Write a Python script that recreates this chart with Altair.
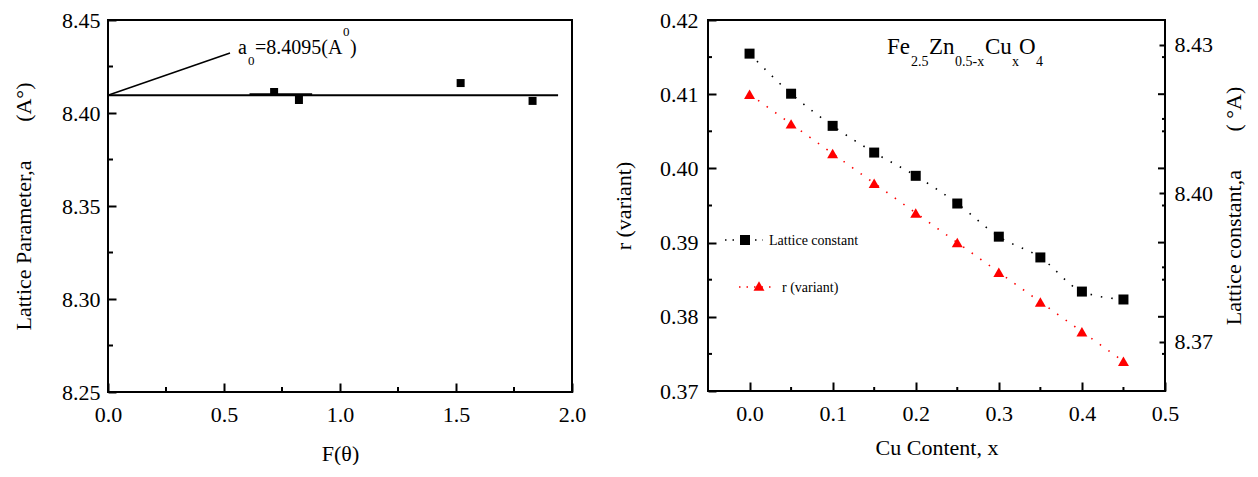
import altair as alt
import pandas as pd

FONT = "Liberation Serif"

# ---------------- Left panel data ----------------
f_theta = [0.716, 0.823, 1.52, 1.83]
a_vals = [8.4113, 8.4070, 8.4161, 8.4065]
fit_x = [0.0, 1.94]
fit_y = [8.4095, 8.4095]
seg_x = [0.61, 0.88]
seg_y = [8.4099, 8.4099]
lead_x = [0.0, 0.526]
lead_y = [8.4095, 8.4323]

# ---------------- Right panel data ----------------
cu_x = [0.0, 0.05, 0.10, 0.15, 0.20, 0.25, 0.30, 0.35, 0.40, 0.45]
r_vals = [0.410, 0.406, 0.402, 0.398, 0.394, 0.390, 0.386, 0.382, 0.378, 0.374]
lat_vals = [8.4282, 8.4201, 8.4136, 8.4082, 8.4035, 8.3979, 8.3912, 8.3870, 8.3801, 8.3785]

# ---------------- Tick values ----------------
left_x_ticks = [0.0, 0.5, 1.0, 1.5, 2.0]
left_x_minor = [0.25, 0.75, 1.25, 1.75]
left_y_ticks = [8.25, 8.30, 8.35, 8.40, 8.45]
left_y_minor = [8.275, 8.325, 8.375, 8.425]
right_x_ticks = [0.0, 0.1, 0.2, 0.3, 0.4, 0.5]
right_x_minor = [0.05, 0.15, 0.25, 0.35, 0.45]
r_ticks = [0.37, 0.38, 0.39, 0.40, 0.41, 0.42]
r_major = [0.38, 0.39, 0.40, 0.41]
r_minor = [0.375, 0.385, 0.395, 0.405, 0.415]
lat_ticks = [8.37, 8.40, 8.43]
lat_minor = [8.385, 8.415]

LW, LH = 464, 372
RW, RH = 457, 371

one = pd.DataFrame({"k": [0]})


def label_axis(orient, values, fmt, title, tick, pad, **kw):
    # ticks drawn inward (negative length via expression); label padding compensates
    return alt.Axis(orient=orient, values=values, format=fmt, title=title,
                    ticks=True, tickSize={"expr": str(-tick)}, tickWidth=2, tickColor="black",
                    domain=False, labelFlush=False, zindex=1,
                    labelOverlap=False, grid=False, labelFont=FONT, labelFontSize=22,
                    labelColor="black", titleFont=FONT, titleFontSize=22,
                    labelPadding=pad + tick,
                    titleFontWeight="normal", titleColor="black", **kw)


def txt(s, x, y, size, **kw):
    return alt.Chart(one).mark_text(text=s, font=FONT, fontSize=size, align="left",
                                    baseline="alphabetic", color="black", **kw).encode(
        x=alt.value(x), y=alt.value(y))


# ---------------- Left panel ----------------
xsL = alt.Scale(domain=[0, 2], nice=False, zero=False)
ysL = alt.Scale(domain=[8.25, 8.45], nice=False, zero=False)
axLx = label_axis("bottom", left_x_ticks, ".1f", "F(θ)", 9, 12, titlePadding=18)
axLy = label_axis("left", left_y_ticks, ".2f", "Lattice Parameter,a" + "\u00a0" * 7 + "(A°)",
                  8, 8, titlePadding=26)


def LX(field):
    return alt.X(f"{field}:Q", scale=xsL, axis=axLx)


def LY(field):
    return alt.Y(f"{field}:Q", scale=ysL, axis=axLy)


pts = pd.DataFrame({"F": f_theta, "a": a_vals})
fit = pd.DataFrame({"F": fit_x, "a": fit_y})
seg = pd.DataFrame({"F": seg_x, "a": seg_y})
lead = pd.DataFrame({"F": lead_x, "a": lead_y})

l_pts = alt.Chart(pts).mark_square(size=64, color="black", opacity=1).encode(x=LX("F"), y=LY("a"))
l_fit = alt.Chart(fit).mark_line(color="black", strokeWidth=2).encode(x=LX("F"), y=LY("a"))
l_lead = alt.Chart(lead).mark_line(color="black", strokeWidth=1.5).encode(x=LX("F"), y=LY("a"))
l_seg = alt.Chart(seg).mark_line(color="black", strokeWidth=2.5).encode(x=LX("F"), y=LY("a"))


def l_xticks(values, length):
    return alt.Chart(pd.DataFrame({"F": values})).mark_rule(color="black", strokeWidth=2).encode(
        x=LX("F"), y=alt.value(LH), y2=alt.value(LH - length))


def l_yticks(values, length):
    return alt.Chart(pd.DataFrame({"a": values})).mark_rule(color="black", strokeWidth=2).encode(
        y=LY("a"), x=alt.value(0), x2=alt.value(length))


left = alt.layer(
    l_pts, l_fit, l_lead, l_seg,
    l_xticks(left_x_minor, 5),
    l_yticks(left_y_minor, 5),
    txt("a", 130, 34, 20),
    txt("0", 140, 45, 13),
    txt("=8.4095(A", 147, 34, 20),
    txt("0", 235, 16, 13),
    txt(")", 242, 34, 20),
).properties(width=LW, height=LH)

# ---------------- Right panel ----------------
xsR = alt.Scale(domain=[-0.05, 0.5], nice=False, zero=False)
rsc = alt.Scale(domain=[0.37, 0.42], nice=False, zero=False)
lsc = alt.Scale(domain=[8.36, 8.435], nice=False, zero=False)
axRx = label_axis("bottom", right_x_ticks, ".1f", "Cu Content, x", 9, 12, titlePadding=13)
axR = label_axis("left", r_ticks, ".2f", "r (variant)", 8, 10, titlePadding=24)
axLat = label_axis("right", lat_ticks, ".2f", "Lattice constant,a" + "\u00a0" * 7 + "(\u00a0°A)",
                   6, 9, titlePadding=11, titleAngle=270, titleBaseline="top")


def RX(field):
    return alt.X(f"{field}:Q", scale=xsR, axis=axRx)


def RY(field):
    return alt.Y(f"{field}:Q", scale=rsc, axis=axR)


def LatY(field):
    return alt.Y(f"{field}:Q", scale=lsc, axis=axLat)


rdf = pd.DataFrame({"x": cu_x, "r": r_vals, "lat": lat_vals})
base = alt.Chart(rdf)
dash = [1.5, 9]


def r_xticks(values, length):
    return alt.Chart(pd.DataFrame({"x": values})).mark_rule(color="black", strokeWidth=2).encode(
        x=RX("x"), y=alt.value(RH), y2=alt.value(RH - length))


def r_yticks(values, x0, x1):
    return alt.Chart(pd.DataFrame({"r": values})).mark_rule(color="black", strokeWidth=2).encode(
        y=RY("r"), x=alt.value(x0), x2=alt.value(x1))


def lat_yticks(values, x0, x1):
    return alt.Chart(pd.DataFrame({"lat": values})).mark_rule(color="black", strokeWidth=2).encode(
        y=LatY("lat"), x=alt.value(x0), x2=alt.value(x1))


r_group = alt.layer(
    base.mark_line(color="red", strokeDash=dash, strokeWidth=1.6).encode(x=RX("x"), y=RY("r")),
    base.mark_point(shape="triangle-up", filled=True, color="red", size=120, opacity=1).encode(
        x=RX("x"), y=RY("r")),
    r_xticks(right_x_minor, 4),
    r_yticks(r_minor, 0, 4),
    r_yticks(r_major, RW, RW - 7), r_yticks(r_minor, RW, RW - 3),
)
lat_group = alt.layer(
    base.mark_line(color="black", strokeDash=dash, strokeWidth=1.6, interpolate="monotone").encode(
        x=RX("x"), y=LatY("lat")),
    base.mark_square(size=100, color="black", opacity=1).encode(x=RX("x"), y=LatY("lat")),
    lat_yticks(lat_minor, RW, RW - 3),
)

leg1_line = alt.Chart(one).mark_rule(color="black", strokeDash=[1.5, 6], strokeWidth=1.6).encode(
    x=alt.value(17), x2=alt.value(55), y=alt.value(220))
leg1_sym = alt.Chart(one).mark_square(size=100, color="black", opacity=1).encode(
    x=alt.value(37), y=alt.value(220))
leg2_line = alt.Chart(one).mark_rule(color="red", strokeDash=[1.5, 6], strokeWidth=1.6).encode(
    x=alt.value(31), x2=alt.value(68), y=alt.value(267))
leg2_sym = alt.Chart(one).mark_point(shape="triangle-up", filled=True, color="red", size=120, opacity=1).encode(
    x=alt.value(51), y=alt.value(266))

right = alt.layer(
    r_group, lat_group,
    leg1_line, leg1_sym, leg2_line, leg2_sym,
    txt("Lattice constant", 61, 225, 14),
    txt("r (variant)", 74, 272, 14),
    txt("Fe", 179, 34, 23),
    txt("2.5", 203, 46, 14),
    txt("Zn", 221, 34, 23),
    txt("0.5-x", 247, 46, 14),
    txt("Cu", 277, 34, 23),
    txt("x", 304, 46, 14),
    txt("O", 311, 34, 23),
    txt("4", 328, 46, 14),
).resolve_scale(y="independent").properties(width=RW, height=RH)

chart = alt.hconcat(left, right, spacing=24).properties(
    padding={"left": 3, "top": 0, "right": 0, "bottom": 0}
).configure_view(
    stroke="black", strokeWidth=2
).configure_axis(
    labelFont=FONT, labelFontSize=22, labelColor="black",
    titleFont=FONT, titleFontSize=22, titleFontWeight="normal", titleColor="black",
    tickColor="black", grid=False,
)

chart.save("out.html", embed_options={"renderer": "svg", "actions": False})
